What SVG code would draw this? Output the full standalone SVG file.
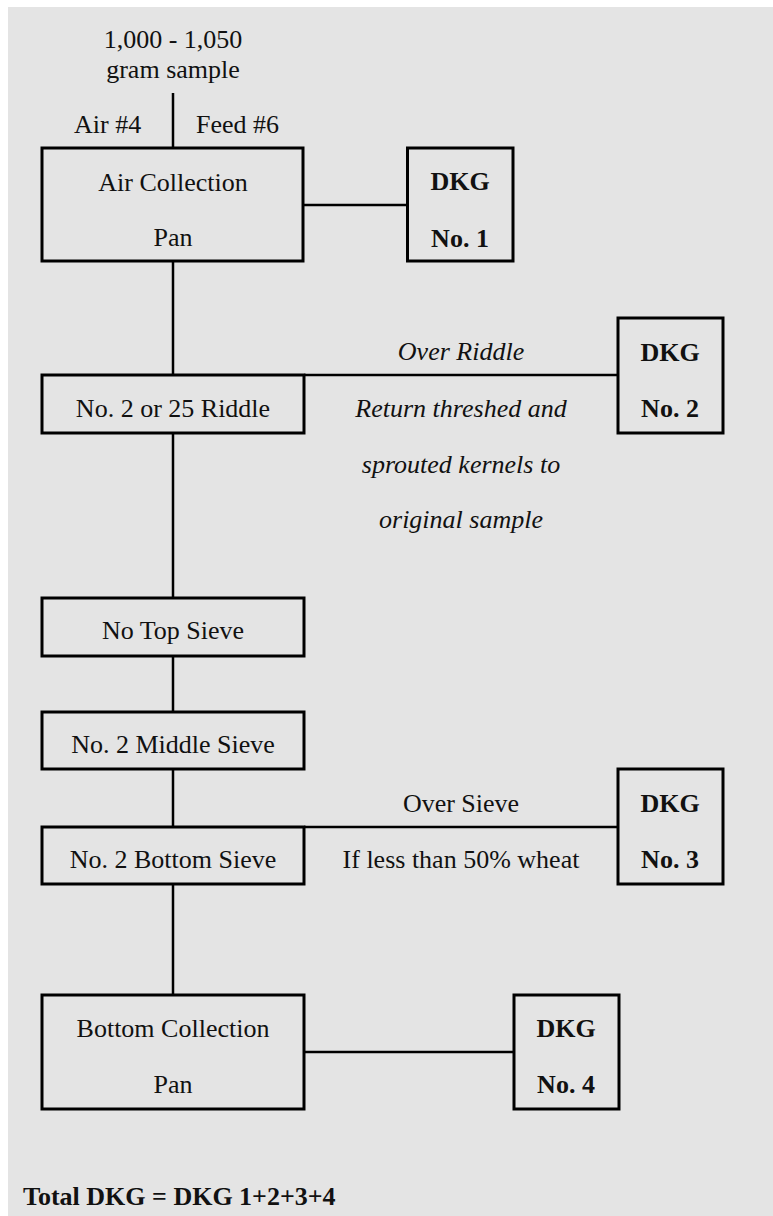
<svg xmlns="http://www.w3.org/2000/svg" width="773" height="1216" viewBox="0 0 773 1216">
<style>
text{font-family:'Liberation Serif','Times New Roman',serif;font-size:26px;fill:#111;text-anchor:middle}
.b{font-weight:bold}
.i{font-style:italic}
.box{fill:none;stroke:#000;stroke-width:3}
.ln{stroke:#000;stroke-width:2.5;fill:none}
</style>
<rect x="8" y="7" width="765" height="1209" fill="#e4e4e4"/>
<g id="connectors">
<line class="ln" x1="173" y1="93" x2="173" y2="148"/>
<line class="ln" x1="173" y1="261" x2="173" y2="375"/>
<line class="ln" x1="173" y1="433" x2="173" y2="598"/>
<line class="ln" x1="173" y1="656" x2="173" y2="712"/>
<line class="ln" x1="173" y1="769" x2="173" y2="827"/>
<line class="ln" x1="173" y1="884" x2="173" y2="995"/>
<line class="ln" x1="303" y1="205" x2="407" y2="205"/>
<line class="ln" x1="304" y1="375" x2="618" y2="375"/>
<line class="ln" x1="304" y1="827" x2="618" y2="827"/>
<line class="ln" x1="304" y1="1052" x2="514" y2="1052"/>
</g>
<g id="sample">
<text x="173" y="48">1,000 - 1,050</text>
<text x="173" y="78">gram sample</text>
<text x="74" y="133" style="text-anchor:start">Air #4</text>
<text x="196" y="133" style="text-anchor:start">Feed #6</text>
</g>
<g id="air-collection">
<rect class="box" x="42" y="148" width="261" height="113"/>
<text x="173" y="191">Air Collection</text>
<text x="173" y="246">Pan</text>
</g>
<g id="dkg1">
<rect class="box" x="407.5" y="148" width="105.5" height="113"/>
<text class="b" x="460" y="190">DKG</text>
<text class="b" x="460" y="247">No. 1</text>
</g>
<g id="riddle">
<rect class="box" x="42" y="375" width="262" height="58"/>
<text x="173" y="417">No. 2 or 25 Riddle</text>
</g>
<g id="riddle-label">
<text class="i" x="461" y="360">Over Riddle</text>
<text class="i" x="461" y="417">Return threshed and</text>
<text class="i" x="461" y="473">sprouted kernels to</text>
<text class="i" x="461" y="528">original sample</text>
</g>
<g id="dkg2">
<rect class="box" x="618" y="318" width="105" height="115"/>
<text class="b" x="670" y="361">DKG</text>
<text class="b" x="670" y="417">No. 2</text>
</g>
<g id="top-sieve">
<rect class="box" x="42" y="598" width="262" height="58"/>
<text x="173" y="639">No Top Sieve</text>
</g>
<g id="middle-sieve">
<rect class="box" x="42" y="712" width="262" height="57"/>
<text x="173" y="753">No. 2 Middle Sieve</text>
</g>
<g id="bottom-sieve">
<rect class="box" x="42" y="827" width="262" height="57"/>
<text x="173" y="868">No. 2 Bottom Sieve</text>
</g>
<g id="sieve-label">
<text x="461" y="812">Over Sieve</text>
<text x="461" y="868">If less than 50% wheat</text>
</g>
<g id="dkg3">
<rect class="box" x="618" y="769" width="105" height="115"/>
<text class="b" x="670" y="812">DKG</text>
<text class="b" x="670" y="868">No. 3</text>
</g>
<g id="bottom-collection">
<rect class="box" x="42" y="995" width="262" height="114"/>
<text x="173" y="1037">Bottom Collection</text>
<text x="173" y="1093">Pan</text>
</g>
<g id="dkg4">
<rect class="box" x="514" y="995" width="105" height="114"/>
<text class="b" x="566" y="1037">DKG</text>
<text class="b" x="566" y="1093">No. 4</text>
</g>
<g id="total">
<text class="b" x="23" y="1205" style="text-anchor:start">Total DKG = DKG 1+2+3+4</text>
</g>
</svg>
